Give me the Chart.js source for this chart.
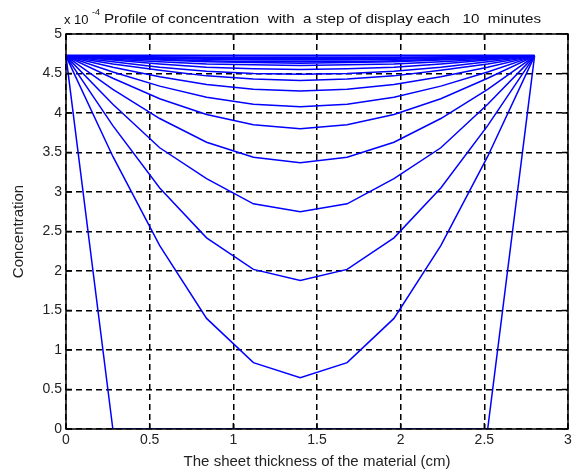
<!DOCTYPE html>
<html>
<head>
    <title>Profile of concentration</title>
    <script src="https://cdn.jsdelivr.net/npm/chart.js"></script>
    <style>
        html, body { margin: 0; padding: 0; background: #fff; }
        #wrap { width: 579px; height: 473px; }
    </style>
</head>
<body>
<div id="wrap"><canvas id="profileChart" width="579" height="473"></canvas></div>
<script>
// --- Data (concentration x 10^-4) ---
// positions across the sheet (cm)
const thickness = [0, 0.28, 0.56, 0.84, 1.12, 1.4, 1.68, 1.96, 2.24, 2.52, 2.8];

// one profile every 10 minutes
const c0   = [4.72, 0, 0, 0, 0, 0, 0, 0, 0, 0, 4.72];
const c10  = [4.72, 3.45, 2.32, 1.40, 0.84, 0.65, 0.84, 1.40, 2.32, 3.45, 4.72];
const c20  = [4.72, 3.84, 3.05, 2.42, 2.02, 1.88, 2.02, 2.42, 3.05, 3.84, 4.72];
const c30  = [4.72, 4.11, 3.56, 3.17, 2.85, 2.75, 2.85, 3.17, 3.56, 4.11, 4.72];
const c40  = [4.72, 4.30, 3.93, 3.63, 3.44, 3.37, 3.44, 3.63, 3.93, 4.30, 4.72];
const c50  = [4.72, 4.44, 4.18, 3.98, 3.85, 3.80, 3.85, 3.98, 4.18, 4.44, 4.72];
const c60  = [4.72, 4.52, 4.34, 4.20, 4.11, 4.08, 4.11, 4.20, 4.34, 4.52, 4.72];
const c70  = [4.72, 4.58, 4.46, 4.36, 4.30, 4.28, 4.30, 4.36, 4.46, 4.58, 4.72];
const c80  = [4.72, 4.62, 4.54, 4.47, 4.43, 4.41, 4.43, 4.47, 4.54, 4.62, 4.72];
const c90  = [4.72, 4.65, 4.58, 4.53, 4.50, 4.49, 4.50, 4.53, 4.58, 4.65, 4.72];
const c100 = [4.72, 4.67, 4.62, 4.58, 4.56, 4.55, 4.56, 4.58, 4.62, 4.67, 4.72];
const c110 = [4.72, 4.68, 4.65, 4.62, 4.61, 4.60, 4.61, 4.62, 4.65, 4.68, 4.72];
const c120 = [4.72, 4.69, 4.67, 4.65, 4.64, 4.63, 4.64, 4.65, 4.67, 4.69, 4.72];
const c130 = [4.72, 4.70, 4.68, 4.66, 4.65, 4.65, 4.65, 4.66, 4.68, 4.70, 4.72];
const c140 = [4.72, 4.70, 4.69, 4.68, 4.67, 4.67, 4.67, 4.68, 4.69, 4.70, 4.72];
const c150 = [4.72, 4.71, 4.70, 4.69, 4.68, 4.68, 4.68, 4.69, 4.70, 4.71, 4.72];
const c160 = [4.72, 4.71, 4.70, 4.70, 4.69, 4.69, 4.69, 4.70, 4.70, 4.71, 4.72];
const c170 = [4.72, 4.71, 4.71, 4.70, 4.70, 4.70, 4.70, 4.70, 4.71, 4.71, 4.72];
const c180 = [4.72, 4.72, 4.71, 4.71, 4.71, 4.71, 4.71, 4.71, 4.71, 4.72, 4.72];
const c190 = [4.73, 4.73, 4.73, 4.73, 4.73, 4.73, 4.73, 4.73, 4.73, 4.73, 4.73];

const profiles = [c0, c10, c20, c30, c40, c50, c60, c70, c80, c90,
                  c100, c110, c120, c130, c140, c150, c160, c170, c180, c190];

const xTicks = [0, 0.5, 1, 1.5, 2, 2.5, 3];
const yTicks = [0, 0.5, 1, 1.5, 2, 2.5, 3, 3.5, 4, 4.5, 5];

const titleText = 'Profile of concentration  with  a step of display each   10  minutes';
const xLabel = 'The sheet thickness of the material (cm)';
const yLabel = 'Concentration';

const fontFamily = '"Liberation Sans", Arial, sans-serif';

// --- Build datasets ---
const datasets = profiles.map((p, i) => ({
    label: (i * 10) + ' min',
    data: thickness.map((x, j) => ({ x: x, y: p[j] })),
    borderColor: '#0000ff',
    borderWidth: 1.5,
    pointRadius: 0,
    tension: 0,
    fill: false
}));

// Matlab-like box, inward ticks and the "x 10^-4" title
const matlabBox = {
    id: 'matlabBox',
    afterDraw(chart) {
        const { ctx, chartArea: a, scales } = chart;
        ctx.save();
        ctx.strokeStyle = '#000';
        ctx.lineWidth = 1.5;
        ctx.setLineDash([]);
        ctx.strokeRect(a.left, a.top, a.right - a.left, a.bottom - a.top);
        const tl = 6;
        ctx.beginPath();
        xTicks.forEach(v => {
            const px = scales.x.getPixelForValue(v);
            ctx.moveTo(px, a.bottom); ctx.lineTo(px, a.bottom - tl);
            ctx.moveTo(px, a.top); ctx.lineTo(px, a.top + tl);
        });
        yTicks.forEach(v => {
            const py = scales.y.getPixelForValue(v);
            ctx.moveTo(a.left, py); ctx.lineTo(a.left + tl, py);
            ctx.moveTo(a.right, py); ctx.lineTo(a.right - tl, py);
        });
        ctx.stroke();

        // title
        ctx.fillStyle = '#111';
        ctx.textBaseline = 'alphabetic';
        ctx.font = '13px ' + fontFamily;
        ctx.fillText('x 10', 64, 24);
        ctx.font = '9px ' + fontFamily;
        ctx.fillText('-4', 92, 15);
        ctx.font = '13px ' + fontFamily;
        const w = ctx.measureText(titleText).width;
        const target = 437;
        ctx.translate(104, 23);
        ctx.scale(target / w, 1);
        ctx.fillText(titleText, 0, 0);
        ctx.restore();
    }
};

const ctx = document.getElementById('profileChart').getContext('2d');
new Chart(ctx, {
    type: 'line',
    data: { datasets: datasets },
    options: {
        responsive: false,
        animation: false,
        events: [],
        layout: { padding: { top: 34, right: 11, left: 0, bottom: 0 } },
        plugins: {
            legend: { display: false },
            tooltip: { enabled: false }
        },
        scales: {
            x: {
                type: 'linear',
                min: 0,
                max: 3,
                afterBuildTicks: s => { s.ticks = xTicks.map(v => ({ value: v })); },
                afterFit: s => { s.height = 44; },
                ticks: {
                    color: '#222',
                    font: { family: fontFamily, size: 14 },
                    padding: 3,
                    maxRotation: 0,
                    callback: v => String(v)
                },
                grid: { color: '#000', lineWidth: 1.5, drawTicks: false },
                border: { display: false, dash: [6, 4] },
                title: {
                    display: true,
                    text: xLabel,
                    color: '#222',
                    font: { family: fontFamily, size: 15 },
                    padding: { top: 0, bottom: 2 }
                }
            },
            y: {
                type: 'linear',
                min: 0,
                max: 5,
                afterBuildTicks: s => { s.ticks = yTicks.map(v => ({ value: v })); },
                afterFit: s => { s.width = 66; },
                ticks: {
                    color: '#222',
                    font: { family: fontFamily, size: 14 },
                    padding: 4,
                    callback: v => String(v)
                },
                grid: { color: '#000', lineWidth: 1.5, drawTicks: false },
                border: { display: false, dash: [6, 4] },
                title: {
                    display: true,
                    text: yLabel,
                    color: '#222',
                    font: { family: fontFamily, size: 15 },
                    padding: { top: 10, bottom: 0 }
                }
            }
        }
    },
    plugins: [matlabBox]
});
</script>
</body>
</html>
